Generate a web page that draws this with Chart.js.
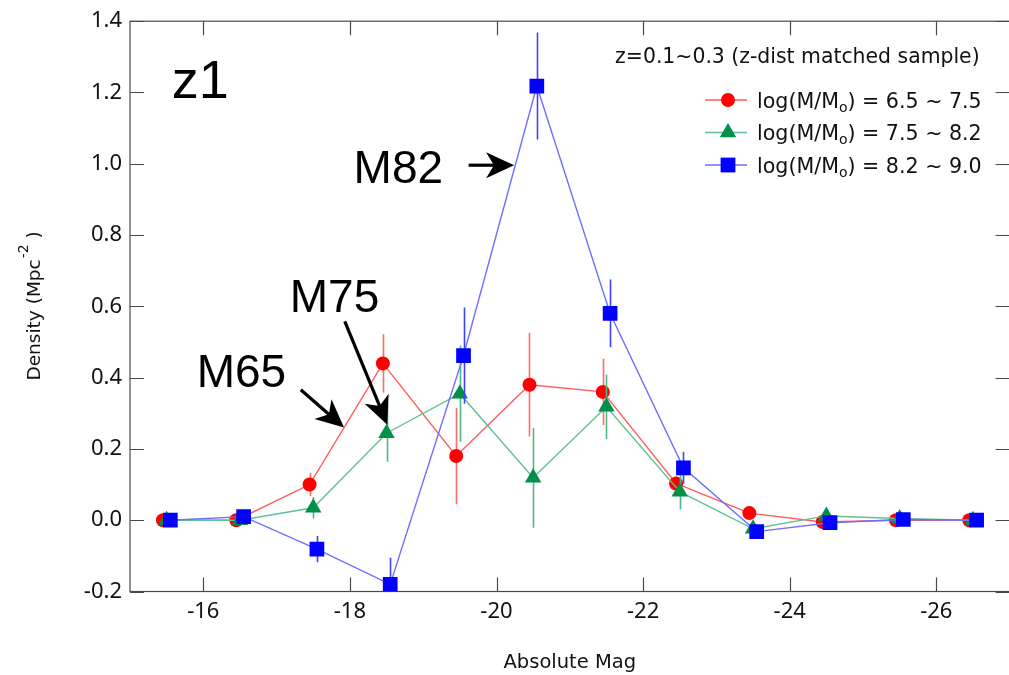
<!DOCTYPE html>
<html>
<head>
<meta charset="utf-8">
<script src="https://cdn.jsdelivr.net/npm/chart.js@4.4.1/dist/chart.umd.min.js"></script>
<style>
    html, body { margin: 0; padding: 0; overflow: hidden; background: #fff; }
    canvas { display: block; }
</style>
</head>
<body>
<canvas id="densityChart" width="1020" height="675"></canvas>
<script>
    // Absolute magnitude bins (each series drawn slightly shifted, as in the figure)
    const redMag   = [-15.45, -16.45, -17.45, -18.45, -19.45, -20.45, -21.45, -22.45, -23.45, -24.45, -25.45, -26.45];
    const greenMag = [-15.5, -16.5, -17.5, -18.5, -19.5, -20.5, -21.5, -22.5, -23.5, -24.5, -25.5, -26.5];
    const blueMag  = [-15.55, -16.55, -17.55, -18.55, -19.55, -20.55, -21.55, -22.55, -23.55, -24.55, -25.55, -26.55];

    // Density (Mpc^-2) and errors
    const redDensity   = [0.0, 0.0, 0.10, 0.44, 0.18, 0.38, 0.36, 0.103, 0.02, -0.005, 0.0, 0.0];
    const redError     = [0.005, 0.005, 0.033, 0.082, 0.135, 0.145, 0.093, 0.02, 0.01, 0.005, 0.003, 0.002];
    const greenDensity = [0.0, 0.0, 0.035, 0.244, 0.355, 0.119, 0.318, 0.08, -0.024, 0.012, 0.005, 0.0];
    const greenError   = [0.005, 0.005, 0.03, 0.08, 0.135, 0.14, 0.09, 0.05, 0.01, 0.01, 0.005, 0.003];
    const blueDensity  = [0.0, 0.01, -0.081, -0.18, 0.462, 1.218, 0.58, 0.147, -0.032, -0.007, 0.002, 0.0];
    const blueError    = [0.005, 0.005, 0.037, 0.075, 0.135, 0.15, 0.095, 0.045, 0.01, 0.005, 0.003, 0.002];

    const seriesLabels = ['6.5 ~ 7.5', '7.5 ~ 8.2', '8.2 ~ 9.0'];
    const xTickValues = [-16, -18, -20, -22, -24, -26];
    const yTickValues = [-0.2, 0, 0.2, 0.4, 0.6, 0.8, 1.0, 1.2, 1.4];

    const headerText = 'z=0.1~0.3 (z-dist matched sample)';
    const panelLabel = 'z1';

    // Text callouts, anchored in data coordinates
    const callouts = [
        { text: 'M82', x: -18.05, y: 0.945, from: [-19.62, 0.996], to: [-20.24, 0.996] },
        { text: 'M75', x: -17.18, y: 0.583, from: [-17.93, 0.558], to: [-18.51, 0.268] },
        { text: 'M65', x: -15.91, y: 0.374, from: [-17.33, 0.366], to: [-17.92, 0.26] }
    ];

    const styles = [
        { marker: '#ff0000', line: '#ff5c5c', err: '#ff6a6a', shape: 'circle' },
        { marker: '#00904a', line: '#62c194', err: '#4fb882', shape: 'triangle' },
        { marker: '#0000ff', line: '#6e6eff', err: '#4040ff', shape: 'rect' }
    ];

    const TICK_FONT = '"Noto Sans", "DejaVu Sans", sans-serif';
    const FONT = '"DejaVu Sans", Verdana, sans-serif';
    const BIG_FONT = '"Liberation Sans", Arial, sans-serif';

    function toPoints(xs, ys) {
        return xs.map((x, i) => ({ x: x, y: ys[i] }));
    }

    function drawMarker(ctx, shape, x, y, color) {
        ctx.fillStyle = color;
        ctx.beginPath();
        if (shape === 'circle') {
            ctx.arc(x, y, 7, 0, Math.PI * 2);
        } else if (shape === 'triangle') {
            const r = 9.5;
            ctx.moveTo(x, y - r);
            ctx.lineTo(x + r * 0.866, y + r * 0.5);
            ctx.lineTo(x - r * 0.866, y + r * 0.5);
            ctx.closePath();
        } else {
            ctx.rect(x - 7.4, y - 7.4, 14.8, 14.8);
        }
        ctx.fill();
    }

    function drawArrow(ctx, x1, y1, x2, y2) {
        const dx = x2 - x1, dy = y2 - y1;
        const len = Math.hypot(dx, dy);
        const ux = dx / len, uy = dy / len;
        const nx = -uy, ny = ux;
        const L = 28, W = 13;
        ctx.strokeStyle = '#000';
        ctx.fillStyle = '#000';
        ctx.lineWidth = 3.2;
        ctx.beginPath();
        ctx.moveTo(x1, y1);
        ctx.lineTo(x2 - ux * L * 0.6, y2 - uy * L * 0.6);
        ctx.stroke();
        ctx.beginPath();
        ctx.moveTo(x2, y2);
        ctx.lineTo(x2 - ux * L + nx * W, y2 - uy * L + ny * W);
        ctx.lineTo(x2 - ux * L * 0.72, y2 - uy * L * 0.72);
        ctx.lineTo(x2 - ux * L - nx * W, y2 - uy * L - ny * W);
        ctx.closePath();
        ctx.fill();
    }

    // Error bars, drawn under each dataset's markers
    const errorBars = {
        id: 'errorBars',
        beforeDatasetDraw(chart, args) {
            const ds = chart.data.datasets[args.index];
            if (!ds.errors) return;
            const ctx = chart.ctx;
            const xs = chart.scales.x, ys = chart.scales.y;
            const area = chart.chartArea;
            ctx.save();
            ctx.beginPath();
            ctx.rect(area.left, area.top, area.right - area.left, area.bottom - area.top);
            ctx.clip();
            ctx.strokeStyle = ds.errorColor;
            ctx.lineWidth = 1.6;
            ds.data.forEach((p, i) => {
                const e = ds.errors[i];
                const px = Math.round(xs.getPixelForValue(p.x)) + 0.5;
                ctx.beginPath();
                ctx.moveTo(px, ys.getPixelForValue(p.y + e));
                ctx.lineTo(px, ys.getPixelForValue(p.y - e));
                ctx.stroke();
            });
            ctx.restore();
        }
    };

    // Box frame with inward ticks on all four sides
    const frame = {
        id: 'frame',
        beforeDatasetsDraw(chart) {
            const ctx = chart.ctx;
            const a = chart.chartArea;
            const xs = chart.scales.x, ys = chart.scales.y;
            const T = 14;
            ctx.save();
            ctx.strokeStyle = '#4a4a4a';
            ctx.lineWidth = 1.2;
            ctx.strokeRect(a.left, a.top, a.right - a.left, a.bottom - a.top);
            ctx.beginPath();
            xTickValues.forEach(v => {
                const px = Math.round(xs.getPixelForValue(v)) + 0.5;
                ctx.moveTo(px, a.bottom); ctx.lineTo(px, a.bottom - T);
                ctx.moveTo(px, a.top); ctx.lineTo(px, a.top + T);
            });
            yTickValues.forEach(v => {
                const py = Math.round(ys.getPixelForValue(v)) + 0.5;
                ctx.moveTo(a.left, py); ctx.lineTo(a.left + T, py);
                ctx.moveTo(a.right, py); ctx.lineTo(a.right - T, py);
            });
            ctx.stroke();
            ctx.restore();
        }
    };

    // Titles, legend, panel label and callouts
    const decorations = {
        id: 'decorations',
        afterDraw(chart) {
            const ctx = chart.ctx;
            const a = chart.chartArea;
            const xs = chart.scales.x, ys = chart.scales.y;
            ctx.save();

            // x title
            ctx.fillStyle = '#111';
            ctx.font = '19.5px ' + FONT;
            ctx.textAlign = 'center';
            ctx.textBaseline = 'middle';
            ctx.fillText('Absolute Mag', (a.left + a.right) / 2, a.bottom + 71);

            // y title with superscript
            ctx.save();
            ctx.translate(33, (a.top + a.bottom) / 2);
            ctx.rotate(-Math.PI / 2);
            ctx.textAlign = 'left';
            ctx.textBaseline = 'alphabetic';
            ctx.font = '18.5px ' + FONT;
            const p1 = 'Density (Mpc', p3 = ' )';
            const w1 = ctx.measureText(p1).width, w3 = ctx.measureText(p3).width;
            ctx.font = '14px ' + FONT;
            const w2 = ctx.measureText('-2').width;
            let x0 = -(w1 + w2 + w3) / 2;
            ctx.font = '18.5px ' + FONT;
            ctx.fillText(p1, x0, 7);
            ctx.font = '14px ' + FONT;
            ctx.fillText('-2', x0 + w1 + 1, -5);
            ctx.font = '18.5px ' + FONT;
            ctx.fillText(p3, x0 + w1 + w2 + 1, 7);
            ctx.restore();

            // header
            ctx.font = '20.4px ' + FONT;
            ctx.textAlign = 'right';
            ctx.textBaseline = 'middle';
            ctx.fillStyle = '#111';
            ctx.fillText(headerText, a.right - 30, 58);

            // legend entries
            const rowY = [100, 132.5, 165];
            styles.forEach((s, i) => {
                const y = rowY[i];
                ctx.strokeStyle = s.line;
                ctx.lineWidth = 1.4;
                ctx.beginPath();
                ctx.moveTo(705, y); ctx.lineTo(747, y);
                ctx.stroke();
                drawMarker(ctx, s.shape, 728, y, s.marker);

                ctx.fillStyle = '#111';
                ctx.textAlign = 'left';
                ctx.textBaseline = 'alphabetic';
                let tx = 757;
                const base = y + 7.5;
                ctx.font = '20.6px ' + FONT;
                ctx.fillText('log(M/M', tx, base);
                tx += ctx.measureText('log(M/M').width;
                ctx.font = '14px ' + FONT;
                ctx.fillText('o', tx, base + 4);
                tx += ctx.measureText('o').width;
                ctx.font = '20.6px ' + FONT;
                ctx.fillText(') = ' + seriesLabels[i], tx, base);
            });

            // panel label
            ctx.fillStyle = '#000';
            ctx.font = '54px ' + BIG_FONT;
            ctx.textAlign = 'left';
            ctx.textBaseline = 'alphabetic';
            ctx.fillText(panelLabel, xs.getPixelForValue(-15.57), ys.getPixelForValue(1.185));

            // callouts
            ctx.font = '46px ' + BIG_FONT;
            callouts.forEach(c => {
                ctx.fillText(c.text, xs.getPixelForValue(c.x), ys.getPixelForValue(c.y));
                drawArrow(ctx,
                    xs.getPixelForValue(c.from[0]), ys.getPixelForValue(c.from[1]),
                    xs.getPixelForValue(c.to[0]), ys.getPixelForValue(c.to[1]));
            });

            ctx.restore();
        }
    };

    const datasets = [
        { data: toPoints(redMag, redDensity), errors: redError, order: 3 },
        { data: toPoints(greenMag, greenDensity), errors: greenError, order: 2 },
        { data: toPoints(blueMag, blueDensity), errors: blueError, order: 1 }
    ].map((d, i) => Object.assign(d, {
        label: seriesLabels[i],
        borderColor: styles[i].line,
        borderWidth: 1.4,
        backgroundColor: styles[i].marker,
        errorColor: styles[i].err,
        pointStyle: styles[i].shape,
        pointBackgroundColor: styles[i].marker,
        pointBorderColor: styles[i].marker,
        pointBorderWidth: 0,
        pointRadius: i === 0 ? 7 : (i === 1 ? 9.5 : 10.4),
        tension: 0,
        fill: false
    }));

    new Chart(document.getElementById('densityChart'), {
        type: 'line',
        data: { datasets: datasets },
        options: {
            responsive: false,
            animation: false,
            devicePixelRatio: 1,
            layout: { padding: { top: 17, right: 7, left: 0, bottom: 0 } },
            plugins: {
                legend: { display: false },
                tooltip: { enabled: false }
            },
            scales: {
                x: {
                    type: 'linear',
                    min: -27,
                    max: -15,
                    reverse: true,
                    afterBuildTicks: scale => { scale.ticks = xTickValues.map(v => ({ value: v })); },
                    afterFit: scale => { scale.height = 83.5; },
                    grid: { display: false, drawTicks: false },
                    border: { display: false },
                    ticks: {
                        padding: 7,
                        color: '#111',
                        font: { family: TICK_FONT, size: 22 },
                        maxRotation: 0,
                        callback: v => String(v)
                    }
                },
                y: {
                    min: -0.2,
                    max: 1.4,
                    afterBuildTicks: scale => { scale.ticks = yTickValues.map(v => ({ value: v })); },
                    afterFit: scale => { scale.width = 130; },
                    grid: { display: false, drawTicks: false },
                    border: { display: false },
                    ticks: {
                        padding: 8,
                        color: '#111',
                        font: { family: TICK_FONT, size: 22 },
                        callback: v => Number(v).toFixed(1)
                    }
                }
            }
        },
        plugins: [frame, errorBars, decorations]
    });
</script>
</body>
</html>
